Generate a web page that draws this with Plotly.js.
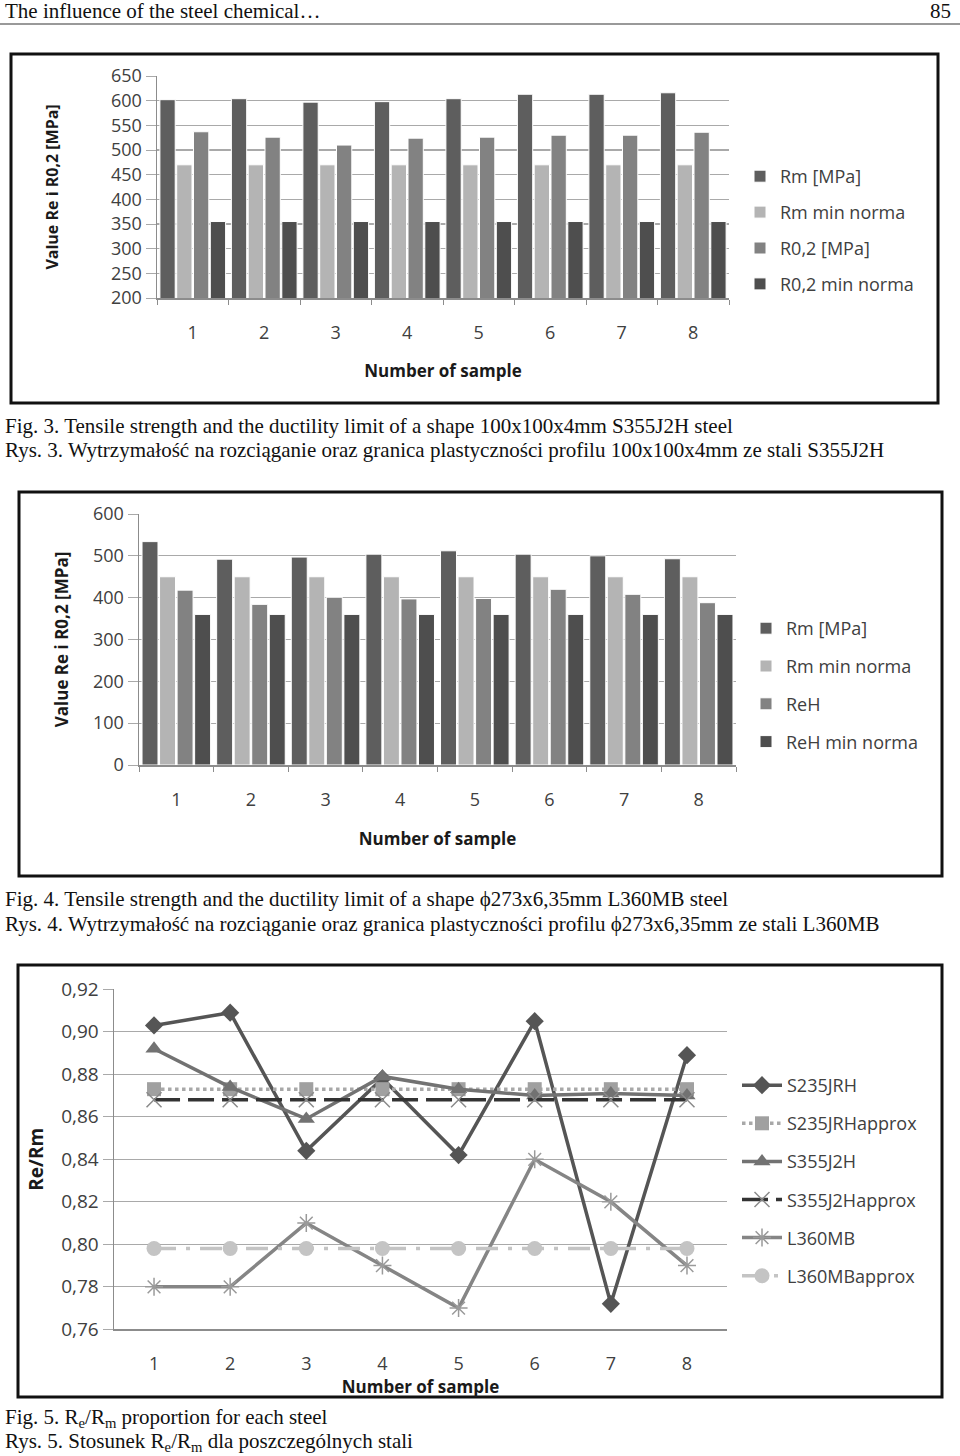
<!DOCTYPE html>
<html>
<head>
<meta charset="utf-8">
<script src="https://cdn.plot.ly/plotly-3.0.1.min.js"></script>
<style>html,body{margin:0;padding:0;background:#fff;}#chart{width:960px;height:1456px;}</style>
</head>
<body>
<div id="chart"></div>
<script>
// ---------- data ----------
const samples = ['1','2','3','4','5','6','7','8'];

// Fig. 3 (S355J2H, 100x100x4mm)
const fig3Names = ['Rm [MPa]','Rm min norma','R0,2 [MPa]','R0,2 min norma'];
const fig3Rm      = [602, 604, 597, 598, 604, 613, 613, 616];
const fig3RmMin   = [470, 470, 470, 470, 470, 470, 470, 470];
const fig3R02     = [537, 526, 510, 524, 526, 530, 530, 536];
const fig3R02Min  = [355, 355, 355, 355, 355, 355, 355, 355];
const fig3Ticks   = [200, 250, 300, 350, 400, 450, 500, 550, 600, 650];

// Fig. 4 (L360MB, 273x6,35mm)
const fig4Names = ['Rm [MPa]','Rm min norma','ReH','ReH min norma'];
const fig4Rm      = [534, 492, 497, 504, 512, 504, 500, 493];
const fig4RmMin   = [450, 450, 450, 450, 450, 450, 450, 450];
const fig4ReH     = [418, 384, 401, 397, 398, 420, 408, 388];
const fig4ReHMin  = [360, 360, 360, 360, 360, 360, 360, 360];
const fig4Ticks   = [0, 100, 200, 300, 400, 500, 600];

// Fig. 5 (Re/Rm)
const fig5Names = ['S235JRH','S235JRHapprox','S355J2H','S355J2Happrox','L360MB','L360MBapprox'];
const S235JRH       = [0.903, 0.909, 0.844, 0.878, 0.842, 0.905, 0.772, 0.889];
const S235JRHapprox = [0.873, 0.873, 0.873, 0.873, 0.873, 0.873, 0.873, 0.873];
const S355J2H       = [0.892, 0.874, 0.859, 0.879, 0.873, 0.870, 0.871, 0.870];
const S355J2Happrox = [0.868, 0.868, 0.868, 0.868, 0.868, 0.868, 0.868, 0.868];
const L360MB        = [0.780, 0.780, 0.810, 0.790, 0.770, 0.840, 0.820, 0.790];
const L360MBapprox  = [0.798, 0.798, 0.798, 0.798, 0.798, 0.798, 0.798, 0.798];
const fig5Ticks     = [0.76, 0.78, 0.80, 0.82, 0.84, 0.86, 0.88, 0.90, 0.92];

// ---------- helpers ----------
const W = 960, H = 1456;
const px = x => x / W;
const py = y => 1 - y / H;
const SANS = 'Open Sans, Noto Sans, sans-serif';
const SERIF = 'Liberation Serif, Times New Roman, serif';
const barColors = ['#5e5e5e', '#b4b4b4', '#828282', '#4e4e4e'];

function bars(names, series, xa, ya, leg) {
  return series.map((s, i) => ({
    type: 'bar', x: samples, y: s, name: names[i],
    xaxis: xa, yaxis: ya, legend: leg, legendgroup: leg + i,
    marker: {color: barColors[i], line: {color: '#ffffff', width: 1}},
    hoverinfo: 'x+y+name'
  }));
}

const traces = [
  ...bars(fig3Names, [fig3Rm, fig3RmMin, fig3R02, fig3R02Min], 'x', 'y', 'legend'),
  ...bars(fig4Names, [fig4Rm, fig4RmMin, fig4ReH, fig4ReHMin], 'x2', 'y2', 'legend2'),
];

const lineStyles = [
  {y: S235JRH, line: {color: '#555555', width: 3.5}, marker: {symbol: 'diamond', size: 14, color: '#555555'}},
  {y: S235JRHapprox, line: {color: '#a8a8a8', width: 3.5, dash: 'dot'}, marker: {symbol: 'square', size: 14, color: '#a0a0a0'}},
  {y: S355J2H, line: {color: '#727272', width: 3.5}, marker: {symbol: 'triangle-up', size: 15, color: '#727272'}},
  {y: S355J2Happrox, line: {color: '#333333', width: 3.5, dash: '26px,8px'}, marker: {symbol: 'x-thin-open', size: 15, color: '#8a8a8a', line: {color: '#8a8a8a', width: 1.5}}},
  {y: L360MB, line: {color: '#858585', width: 3.5}, marker: {symbol: 'asterisk-open', size: 15, color: '#9a9a9a', line: {color: '#9a9a9a', width: 1.5}}},
  {y: L360MBapprox, line: {color: '#c4c4c4', width: 3.5, dash: '22px,10px,4px,10px'}, marker: {symbol: 'circle', size: 15, color: '#c4c4c4'}},
];
lineStyles.forEach((s, i) => {
  traces.push({
    type: 'scatter', mode: 'lines+markers', x: samples, y: s.y, name: fig5Names[i],
    xaxis: 'x3', yaxis: 'y3', legend: 'legend3', legendgroup: 'l3_' + i,
    line: s.line, marker: s.marker
  });
});

// ---------- axes ----------
const gridC = '#a9a9a9', axC = '#8c8c8c';
const tickFont = {family: SANS, size: 18, color: '#404040'};
const titleFont = {family: SANS, size: 17, color: '#1a1a1a', weight: 'bold'};

function xAx(domain, anchor, standoffLab, titleStand) {
  return {
    domain: domain, anchor: anchor, type: 'category',
    showline: true, linecolor: axC, linewidth: 1.5,
    showgrid: false, ticks: 'outside', tickson: 'boundaries', ticklen: 5, tickcolor: axC,
    tickfont: tickFont, ticklabelstandoff: standoffLab, automargin: false,
    title: {text: 'Number of sample', font: titleFont, standoff: titleStand},
    fixedrange: true
  };
}
function yAx(domain, anchor, range, tickvals, titleText, titleSize, stand, fmt, tsize) {
  return {
    domain: domain, anchor: anchor, range: range, tickvals: tickvals,
    tickformat: fmt, showline: true, linecolor: axC, linewidth: 1.5,
    showgrid: true, gridcolor: gridC, gridwidth: 1.2, zeroline: false,
    ticks: 'outside', ticklen: 10, tickcolor: gridC,
    tickfont: Object.assign({}, tickFont, {size: tsize}), automargin: false,
    title: {text: titleText, font: Object.assign({}, titleFont, {size: titleSize}), standoff: stand},
    fixedrange: true
  };
}

const layout = {
  width: W, height: H,
  margin: {l: 0, r: 0, t: 0, b: 0},
  paper_bgcolor: '#ffffff', plot_bgcolor: '#ffffff',
  separators: ', ',
  barmode: 'group', bargap: 0.06, bargroupgap: 0.09,
  showlegend: true,
  xaxis:  xAx([px(157), px(729)], 'y', 18, 22),
  yaxis:  yAx([py(298), py(76)], 'x', [200, 650], fig3Ticks, 'Value Re i R0,2 [MPa]', 16, 48, 'd', 18),
  xaxis2: xAx([px(139), px(736)], 'y2', 18, 23),
  yaxis2: yAx([py(765), py(514)], 'x2', [0, 600], fig4Ticks, 'Value Re i R0,2 [MPa]', 17, 20, 'd', 18),
  xaxis3: Object.assign(xAx([px(114), px(727)], 'y3', 18, 0), {ticks: '', ticklen: 0}),
  yaxis3: yAx([py(1329.3), py(989.3)], 'x3', [0.76, 0.92], fig5Ticks, 'Re/Rm', 19, 12, '.2f', 19),
  legend:  {x: px(740), y: py(158), xanchor: 'left', yanchor: 'top', font: {family: SANS, size: 18, color: '#404040'}, tracegroupgap: 9.5, bgcolor: 'rgba(0,0,0,0)'},
  legend2: {x: px(746), y: py(610), xanchor: 'left', yanchor: 'top', font: {family: SANS, size: 18, color: '#404040'}, tracegroupgap: 11.4, bgcolor: 'rgba(0,0,0,0)'},
  legend3: {x: px(737), y: py(1067), xanchor: 'left', yanchor: 'top', font: {family: SANS, size: 18, color: '#404040'}, tracegroupgap: 11.7, bgcolor: 'rgba(0,0,0,0)', itemwidth: 40},
  shapes: [
    {type: 'line', xref: 'paper', yref: 'paper', x0: 0, x1: 1, y0: py(24), y1: py(24), line: {color: '#777', width: 1.5}},
    {type: 'rect', xref: 'paper', yref: 'paper', x0: px(11), x1: px(938), y0: py(403), y1: py(54), line: {color: '#111', width: 3}},
    {type: 'rect', xref: 'paper', yref: 'paper', x0: px(19), x1: px(942), y0: py(876), y1: py(492), line: {color: '#111', width: 3}},
    {type: 'rect', xref: 'paper', yref: 'paper', x0: px(18), x1: px(942), y0: py(1397), y1: py(965), line: {color: '#111', width: 3}}
  ],
  annotations: []
};

function txt(text, x, y, size, anchor) {
  layout.annotations.push({
    text: text, xref: 'paper', yref: 'paper', x: px(x), y: py(y),
    xanchor: anchor || 'left', yanchor: 'middle', showarrow: false,
    font: {family: SERIF, size: size, color: '#111'}
  });
}
txt('The influence of the steel chemical…', 3, 11, 21);
txt('85', 953, 11, 21, 'right');
txt('Fig. 3. Tensile strength and the ductility limit of a shape 100x100x4mm S355J2H steel', 3, 426, 21);
txt('Rys. 3. Wytrzymałość na rozciąganie oraz granica plastyczności profilu 100x100x4mm ze stali S355J2H', 3, 450, 21);
txt('Fig. 4. Tensile strength and the ductility limit of a shape ϕ273x6,35mm L360MB steel', 3, 899, 21);
txt('Rys. 4. Wytrzymałość na rozciąganie oraz granica plastyczności profilu ϕ273x6,35mm ze stali L360MB', 3, 924, 21);
txt('Fig. 5. R<sub>e</sub>/R<sub>m</sub> proportion for each steel', 3, 1418, 21);
txt('Rys. 5. Stosunek R<sub>e</sub>/R<sub>m</sub> dla poszczególnych stali', 3, 1442, 21);

Plotly.newPlot('chart', traces, layout, {displayModeBar: false, staticPlot: true});
</script>
</body>
</html>
